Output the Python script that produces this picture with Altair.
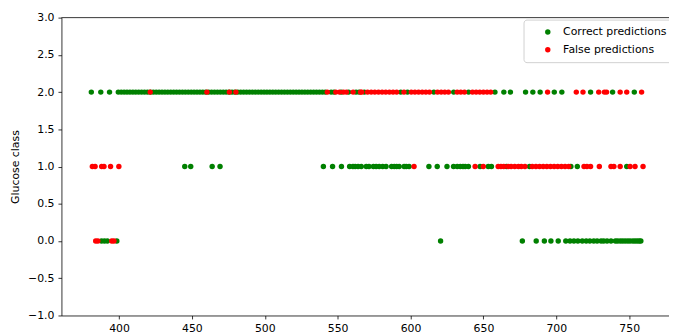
import altair as alt
import pandas as pd

# x values of points per glucose class
correct_2 = [381, 387.5, 393.5,
             399.5, 401.5, 403.5, 405.5, 407.5, 409.5, 411.5, 413.5, 415.5, 417.5, 419.5,
             421.5, 423.5, 425.5, 427.5, 429.5, 431.5, 433.5, 435.5, 437.5, 439.5, 441.5,
             443.5, 445.5, 447.5, 449.5, 451.5, 453.5, 455.5, 457.5, 459.5, 461.5, 463.5,
             465.5, 467.5, 469.5, 471.5, 473.5, 475.5, 477.5, 479.5, 481.5, 483.5, 485.5,
             487.5, 489.5, 491.5, 493.5, 495.5, 497.5, 499.5, 501.5, 503.5, 505.5, 507.5,
             509.5, 511.5, 513.5, 515.5, 517.5, 519.5, 521.5, 523.5, 525.5, 527.5, 529.5,
             531.5, 533.5, 535.5, 537.5, 539.5, 541.5, 545.5, 547.5, 552.5, 557.5, 562.6,
             564.7, 568.3, 593.3, 597.9, 616, 629.6, 639.8, 657.9, 664, 668.5, 678.9, 683.9,
             688.9, 698.6, 703.8, 723.5, 738.6, 753.5]
false_2 = [421.4, 460.3, 475.7, 480.2, 542.9, 548.7, 551.3, 554, 556, 560.6, 565.7, 566.5,
           570.5, 573, 575.5, 578, 580.5, 583, 585.5, 588, 590.5, 595.5, 600.5, 603, 605.5,
           608, 610.5, 613, 618.5, 621, 623.5, 626, 632, 634.5, 637, 642.5, 645, 647.5, 650,
           652.5, 655, 694, 713.7, 718.3, 729.1, 733, 734.5, 743.8, 748.3, 758.5]
correct_1 = [445.1, 449.2, 463.9, 469.3, 540.2, 546.5, 552.6, 558.2, 560.5, 562, 564, 566.2,
             569.6, 571.5, 574.5, 576.4, 578.5, 580.9, 583.2, 587, 588.8, 590.5, 592.2, 595.6,
             597, 599, 612.6, 618.3, 625, 629.5, 632, 634.1, 636, 637.5, 639.7, 647.7, 653.3,
             655.5, 665.8, 681.6, 710, 714.4, 748.3]
false_1 = [381.7, 383.6, 388.1, 389.7, 394.2, 399.9, 602.4, 644.3, 649.9, 660.1, 662, 664,
           667, 669, 671.5, 674, 676, 678.5, 683.5, 686, 688.5, 691, 693.5, 696, 698.5, 701,
           703.5, 706, 708.5, 719, 721, 723.5, 729.5, 737.5, 739.5, 743.8, 750.6, 754, 759.5]
correct_0 = [388, 390, 392, 398.5, 620.6, 676.7, 686.2, 691.8, 696.3, 701.3, 706.5, 709.4,
             712.1, 714.8, 717.8, 720.5, 723, 725.7, 728, 730.7, 732.5, 734.8, 737.5, 740.5,
             742, 743.8, 745.5, 747.2, 749, 750.6, 752.5, 754, 755.5, 756.9, 758]
false_0 = [384, 385.5, 395, 396.5]

labels = ["Correct predictions", "False predictions"]
x_ticks = [400, 450, 500, 550, 600, 650, 700, 750]
y_ticks = [-1.0, -0.5, 0.0, 0.5, 1.0, 1.5, 2.0, 2.5, 3.0]

rows = []
for cls, xs in [(2, correct_2), (1, correct_1), (0, correct_0)]:
    rows += [{"x": v, "y": cls, "kind": labels[0]} for v in xs]
for cls, xs in [(2, false_2), (1, false_1), (0, false_0)]:
    rows += [{"x": v, "y": cls, "kind": labels[1]} for v in xs]
df = pd.DataFrame(rows)

W, H = 614, 301
font = "DejaVu Sans"
fs = 11

points = alt.Chart(df).mark_circle(size=30, opacity=1).encode(
    x=alt.X("x:Q", scale=alt.Scale(domain=[360.5, 777.3], nice=False, zero=False),
            axis=alt.Axis(values=x_ticks, format="d", title=None)),
    y=alt.Y("y:Q", scale=alt.Scale(domain=[-1, 3], nice=False, zero=False),
            axis=alt.Axis(values=y_ticks, format=".1f", title="Glucose class",
                          labelPadding=4, titlePadding=7)),
    color=alt.Color("kind:N", scale=alt.Scale(domain=labels, range=["#008000", "#ff0000"]),
                    legend=alt.Legend(title=None, orient="none", legendX=467, legendY=2,
                                      strokeColor="#d0d0d0", fillColor="white",
                                      cornerRadius=3, padding=7, symbolType="circle",
                                      symbolSize=30, symbolOffset=12, labelOffset=10,
                                      rowPadding=6, labelFontSize=fs, labelFont=font,
                                      labelColor="black", symbolStrokeWidth=0)),
)

top_spine = alt.Chart(pd.DataFrame({"a": [0]})).mark_rule(color="black", strokeWidth=0.8).encode(
    x=alt.value(0), x2=alt.value(W), y=alt.value(0)
)

chart = alt.layer(points, top_spine).properties(
    width=W, height=H,
    autosize=alt.AutoSizeParams(type="none"),
    padding={"left": 54, "top": 8, "right": 0, "bottom": 18},
).configure_view(stroke=None).configure_axis(
    grid=False, domainColor="black", domainWidth=0.8, tickColor="black", tickWidth=0.8,
    tickSize=3.5, labelFont=font, labelFontSize=fs, labelColor="black",
    titleFont=font, titleFontSize=fs, titleFontWeight="normal", titleColor="black",
    labelPadding=3.5,
)

chart.save("out.html", embed_options={"renderer": "svg", "actions": False})
